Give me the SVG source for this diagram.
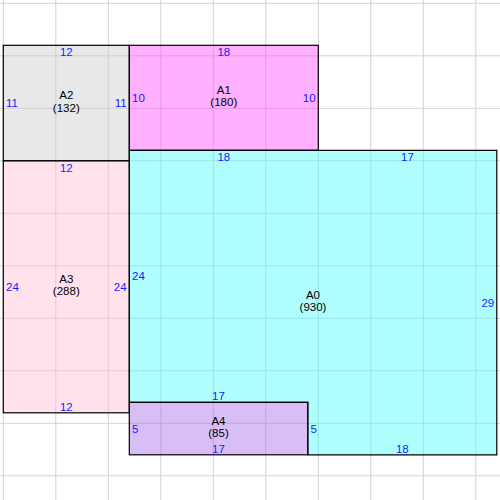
<svg xmlns="http://www.w3.org/2000/svg" width="500" height="500" viewBox="0 0 500 500">
<style>
.bd{stroke:#000;stroke-width:1.2;fill-opacity:0.45}
.nm{font-family:"Liberation Sans",Arial,sans-serif;font-size:11.5px;fill:#000;text-anchor:middle}
.dm{font-family:"Liberation Sans",Arial,sans-serif;font-size:11.5px;fill:#1a1aff}
.c{text-anchor:middle}.s{text-anchor:start}.e{text-anchor:end}
.grid line{stroke:#d2d2d2;stroke-width:1}
</style>
<rect width="500" height="500" fill="#fff"/>
<g class="grid">
<line x1="3.3" y1="0" x2="3.3" y2="500"/>
<line x1="55.8" y1="0" x2="55.8" y2="500"/>
<line x1="108.3" y1="0" x2="108.3" y2="500"/>
<line x1="160.8" y1="0" x2="160.8" y2="500"/>
<line x1="213.3" y1="0" x2="213.3" y2="500"/>
<line x1="265.8" y1="0" x2="265.8" y2="500"/>
<line x1="318.3" y1="0" x2="318.3" y2="500"/>
<line x1="370.8" y1="0" x2="370.8" y2="500"/>
<line x1="423.3" y1="0" x2="423.3" y2="500"/>
<line x1="475.8" y1="0" x2="475.8" y2="500"/>
<line x1="0" y1="3.3" x2="500" y2="3.3"/>
<line x1="0" y1="55.8" x2="500" y2="55.8"/>
<line x1="0" y1="108.3" x2="500" y2="108.3"/>
<line x1="0" y1="160.8" x2="500" y2="160.8"/>
<line x1="0" y1="213.3" x2="500" y2="213.3"/>
<line x1="0" y1="265.8" x2="500" y2="265.8"/>
<line x1="0" y1="318.3" x2="500" y2="318.3"/>
<line x1="0" y1="370.8" x2="500" y2="370.8"/>
<line x1="0" y1="423.3" x2="500" y2="423.3"/>
<line x1="0" y1="475.8" x2="500" y2="475.8"/>
</g>
<g id="A2">
<rect class="bd" x="3.3" y="45.3" width="126" height="115.5" fill="#cccccc"/>
<text class="dm c" x="66.3" y="56.3">12</text>
<text class="dm s" x="6" y="107">11</text>
<text class="dm e" x="126.6" y="107">11</text>
<text class="nm" x="66.3" y="99">A2</text>
<text class="nm" x="66.3" y="111.5">(132)</text>
</g>
<g id="A1">
<rect class="bd" x="129.3" y="45.3" width="189" height="105" fill="#ff4fff"/>
<text class="dm c" x="223.8" y="56.3">18</text>
<text class="dm s" x="132" y="101.8">10</text>
<text class="dm e" x="315.6" y="101.8">10</text>
<text class="nm" x="223.8" y="93.8">A1</text>
<text class="nm" x="223.8" y="106.3">(180)</text>
</g>
<g id="A3">
<rect class="bd" x="3.3" y="160.8" width="126" height="252" fill="#ffbed4"/>
<text class="dm c" x="66.3" y="171.8">12</text>
<text class="dm s" x="6" y="290.8">24</text>
<text class="dm e" x="126.6" y="290.8">24</text>
<text class="dm c" x="66.3" y="410.8">12</text>
<text class="nm" x="66.3" y="282.8">A3</text>
<text class="nm" x="66.3" y="295.3">(288)</text>
</g>
<g id="A0">
<polygon class="bd" points="129.3,150.3 496.8,150.3 496.8,454.8 307.8,454.8 307.8,402.3 129.3,402.3" fill="#4fffff"/>
<text class="dm c" x="223.8" y="161.3">18</text>
<text class="dm c" x="407.5" y="161.3">17</text>
<text class="dm s" x="132" y="280.3">24</text>
<text class="dm e" x="494.2" y="306.5">29</text>
<text class="dm c" x="218.5" y="400.3">17</text>
<text class="dm s" x="310.6" y="432.5">5</text>
<text class="dm c" x="402.3" y="452.8">18</text>
<text class="nm" x="313" y="298.5">A0</text>
<text class="nm" x="313" y="311">(930)</text>
</g>
<g id="A4">
<rect class="bd" x="129.3" y="402.3" width="178.5" height="52.5" fill="#aa6ee9"/>
<text class="dm s" x="132" y="432.5">5</text>
<text class="dm c" x="218.5" y="452.8">17</text>
<text class="nm" x="218.5" y="424.5">A4</text>
<text class="nm" x="218.5" y="437">(85)</text>
</g>
</svg>
